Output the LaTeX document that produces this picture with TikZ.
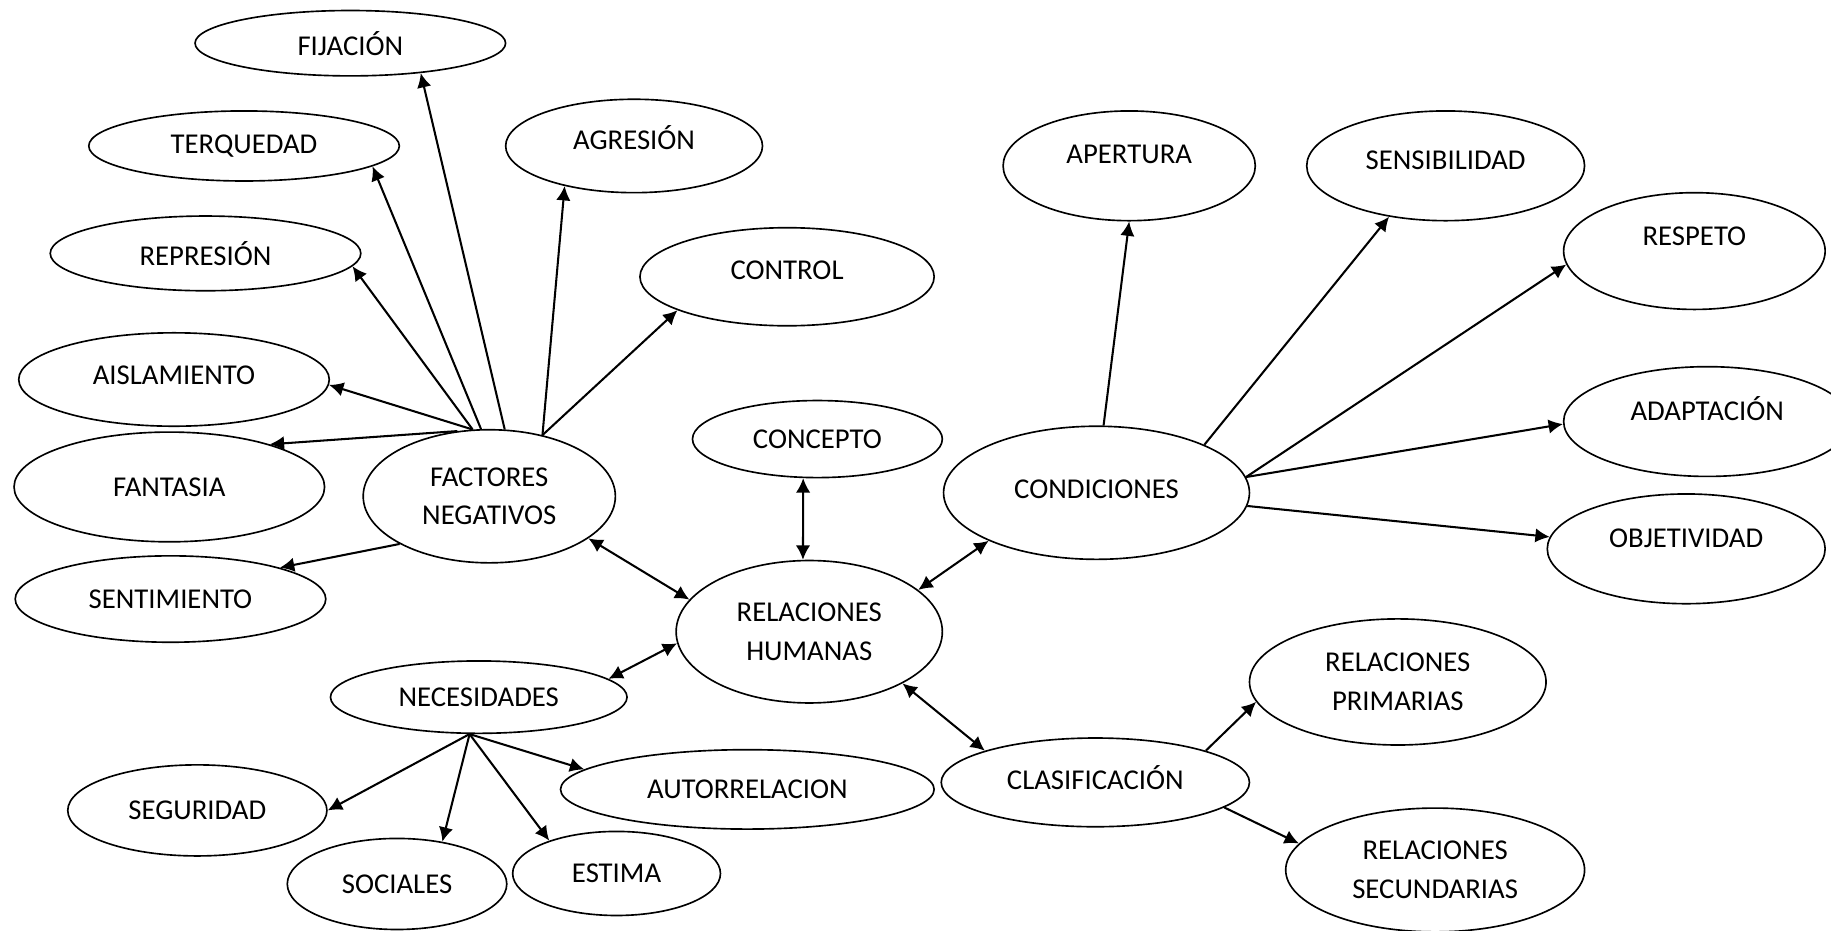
\documentclass[tikz,border=0pt]{standalone}
\usepackage{fontspec}
\setmainfont{Carlito}
\usetikzlibrary{shapes.geometric,arrows.meta}
\tikzset{oval/.style={draw, ellipse, line width=0.8pt, inner sep=0pt, align=center, font=\fontsize{14}{19}\selectfont}}
\tikzset{sz/.style 2 args={minimum width=#1cm, minimum height=#2cm}}
\tikzset{lift/.style={text depth=#1cm}}
\tikzset{link/.style={line width=1pt, >={Latex[length=7pt,width=7pt]}}}

\begin{document}
\begin{tikzpicture}[x=0.02cm, y=-0.02cm]
		\useasboundingbox (0,0) rectangle (1568,797);
		
		% factores negativos
		\node[oval, sz={4.32}{2.28}] (fneg) at (419,425) {FACTORES\\NEGATIVOS};
		\node[oval, sz={5.32}{1.12}] (fij) at (300,37) {FIJACIÓN};
		\node[oval, sz={5.32}{1.20}] (terq) at (209,125) {TERQUEDAD};
		\node[oval, sz={4.40}{1.60}, lift=0.28] (agr) at (543,125) {AGRESIÓN};
		\node[oval, sz={5.32}{1.28}] (rep) at (176,217) {REPRESIÓN};
		\node[oval, sz={5.04}{1.68}, lift=0.24] (ctrl) at (674,237) {CONTROL};
		\node[oval, sz={5.32}{1.60}, lift=0.16] (aisl) at (149,325) {AISLAMIENTO};
		\node[oval, sz={5.32}{1.88}] (fant) at (145,417) {FANTASIA};
		\node[oval, sz={5.32}{1.48}] (sent) at (146,513) {SENTIMIENTO};
		
		% centro
		\node[oval, sz={4.56}{2.44}] (rh) at (693,541) {RELACIONES\\HUMANAS};
		\node[oval, sz={4.28}{1.32}] (conc) at (700,376) {CONCEPTO};
		
		% necesidades
		\node[oval, sz={5.08}{1.24}] (nec) at (410,597) {NECESIDADES};
		\node[oval, sz={6.40}{1.36}] (auto) at (640,676) {AUTORRELACION};
		\node[oval, sz={4.44}{1.56}] (seg) at (169,694) {SEGURIDAD};
		\node[oval, sz={3.76}{1.56}] (soc) at (340,757) {SOCIALES};
		\node[oval, sz={3.56}{1.44}] (est) at (528,748) {ESTIMA};
		
		% condiciones
		\node[oval, sz={5.24}{2.28}, lift=0.12] (cond) at (939,422) {CONDICIONES};
		\node[oval, sz={4.32}{1.88}, lift=0.40] (aper) at (967,142) {APERTURA};
		\node[oval, sz={4.76}{1.88}, lift=0.20] (sens) at (1238,142) {SENSIBILIDAD};
		\node[oval, sz={4.48}{2.00}, lift=0.52] (resp) at (1451,215) {RESPETO};
		\node[oval, sz={4.92}{1.88}, lift=0.44] (adap) at (1462,361) {ADAPTACIÓN};
		\node[oval, sz={4.76}{1.88}, lift=0.36] (obj) at (1444,470) {OBJETIVIDAD};
		
		% clasificacion
		\node[oval, sz={5.28}{1.52}, lift=0.16] (clas) at (938,670) {CLASIFICACIÓN};
		\node[oval, sz={5.08}{2.16}] (rprim) at (1197,584) {RELACIONES\\PRIMARIAS};
		\node[oval, sz={5.12}{2.12}] (rsec) at (1229,745) {RELACIONES\\SECUNDARIAS};
		
		\draw[link,->] (fneg.77) -- (fij.337);
		\draw[link,->] (fneg.97) -- (terq.351);
		\draw[link,->] (fneg.49) -- (agr.210);
		\draw[link,->] (fneg.104) -- (rep.355);
		\draw[link,->] (fneg.49) -- (ctrl.197);
		\draw[link,->] (fneg.104) -- (aisl.358);
		\draw[link,->] (fneg.116) -- (fant.23);
		\draw[link,->] (fneg.208) -- (sent.16);
		
		\draw[link,<->] (fneg.337) -- (rh.165);
		\draw[link,<->] (conc.250) -- (rh.95);
		\draw[link,<->] (rh.21) -- (cond.204);
		\draw[link,<->] (rh.185) -- (nec.8);
		\draw[link,<->] (rh.331) -- (clas.164);
		
		\draw[link,->] (nec.256) -- (seg.0);
		\draw[link,->] (nec.256) -- (soc.43);
		\draw[link,->] (nec.256) -- (est.154);
		\draw[link,->] (nec.256) -- (auto.173);
		
		\draw[link,->] (cond.84) -- (aper.270);
		\draw[link,->] (cond.24) -- (sens.222);
		\draw[link,->] (cond.6) -- (resp.186);
		\draw[link,->] (cond.6) -- (adap.181);
		\draw[link,->] (cond.355) -- (obj.175);
		
		\draw[link,->] (clas.16) -- (rprim.188);
		\draw[link,->] (clas.349) -- (rsec.169);
\end{tikzpicture}
\end{document}
